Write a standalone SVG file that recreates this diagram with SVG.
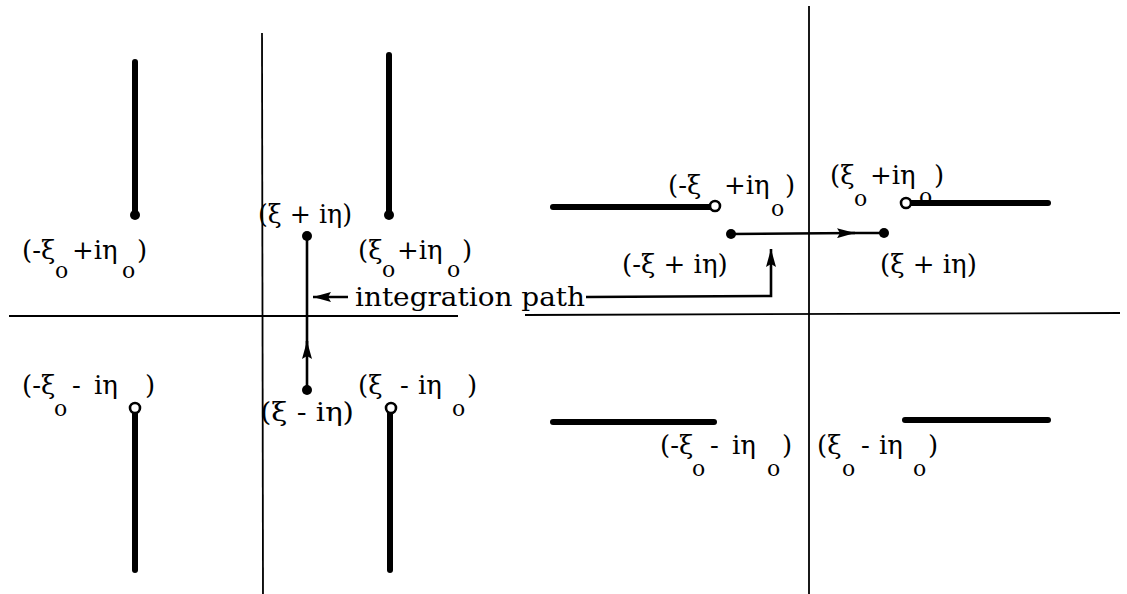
<svg xmlns="http://www.w3.org/2000/svg" width="1127" height="594" viewBox="0 0 1127 594">
<style>
.ax{stroke:#000;stroke-width:1.8;fill:none}
.cut{stroke:#000;stroke-width:6;stroke-linecap:round;fill:none}
.path{stroke:#000;stroke-width:2.6;fill:none}
.dot{fill:#000}
.oc{fill:#fff;stroke:#000;stroke-width:2.6}
text{font-family:"DejaVu Serif","Liberation Serif",serif;font-size:26px;fill:#000}
.sub{font-size:22px}
</style>
<defs>
<marker id="ah" viewBox="0 0 18 10" refX="18" refY="5" markerWidth="18" markerHeight="10" markerUnits="userSpaceOnUse" orient="auto">
<path d="M0,0 L18,5 L0,10 L3,5 Z" fill="#000"/>
</marker>
</defs>
<rect width="1127" height="594" fill="#fff"/>
<g id="axes">
<line class="ax" x1="9" y1="316" x2="458" y2="316"/>
<line class="ax" x1="525" y1="315" x2="1120" y2="313"/>
<line class="ax" x1="262" y1="33" x2="263" y2="594"/>
<line class="ax" x1="809" y1="6" x2="809" y2="594"/>
</g>
<g id="left-cuts">
<line class="cut" x1="135" y1="62" x2="135" y2="214"/>
<circle class="dot" cx="135" cy="215" r="5"/>
<line class="cut" x1="389" y1="55" x2="389" y2="214"/>
<circle class="dot" cx="389" cy="215" r="5"/>
<line class="cut" x1="135" y1="413" x2="135" y2="570"/>
<circle class="oc" cx="135" cy="408" r="5"/>
<line class="cut" x1="390" y1="413" x2="390" y2="570"/>
<circle class="oc" cx="391" cy="408" r="5"/>
</g>
<g id="right-cuts">
<line class="cut" x1="553" y1="207" x2="711" y2="207"/>
<circle class="oc" cx="715" cy="206" r="5"/>
<line class="cut" x1="910" y1="203" x2="1048" y2="203"/>
<circle class="oc" cx="906" cy="203" r="5"/>
<line class="cut" x1="553" y1="422" x2="714" y2="422"/>
<line class="cut" x1="905" y1="420" x2="1048" y2="420"/>
</g>
<g id="connectors">
<line class="path" x1="307" y1="390" x2="307" y2="341" marker-end="url(#ah)"/>
<line class="path" x1="307" y1="350" x2="307" y2="236"/>
<circle class="dot" cx="307" cy="390" r="5"/>
<circle class="dot" cx="307" cy="236" r="5"/>
<line class="path" x1="731" y1="234" x2="855" y2="233" marker-end="url(#ah)"/>
<line class="path" x1="845" y1="233" x2="884" y2="233"/>
<circle class="dot" cx="731" cy="234" r="5"/>
<circle class="dot" cx="884" cy="233" r="5"/>
<line class="path" x1="348" y1="297" x2="313" y2="297" marker-end="url(#ah)"/>
<polyline class="path" points="586,297 771,296 771,249" marker-end="url(#ah)"/>
</g>
<g id="labels">
<text y="259"><tspan x="22">(-ξ</tspan><tspan class="sub" x="55" y="278">o</tspan><tspan x="72" y="259">+iη</tspan><tspan class="sub" x="122" y="278">o</tspan><tspan x="137" y="259">)</tspan></text>
<text x="258" y="223" textLength="94" lengthAdjust="spacingAndGlyphs">(ξ + iη)</text>
<text y="259"><tspan x="358">(ξ</tspan><tspan class="sub" x="382" y="277">o</tspan><tspan x="397" y="259">+iη</tspan><tspan class="sub" x="447" y="277">o</tspan><tspan x="462" y="259">)</tspan></text>
<text y="394"><tspan x="22">(-ξ</tspan><tspan class="sub" x="54" y="416">o</tspan><tspan x="72" y="394">-</tspan><tspan x="94">iη</tspan><tspan x="145">)</tspan></text>
<text x="260" y="421" textLength="94" lengthAdjust="spacingAndGlyphs">(ξ - iη)</text>
<text y="394"><tspan x="358">(ξ</tspan><tspan x="400">-</tspan><tspan x="418">iη</tspan><tspan class="sub" x="452" y="416">o</tspan><tspan x="467" y="394">)</tspan></text>
<text x="355" y="306" textLength="230" lengthAdjust="spacingAndGlyphs">integration path</text>
<text y="194"><tspan x="668">(-ξ</tspan><tspan x="724">+iη</tspan><tspan class="sub" x="771" y="216">o</tspan><tspan x="785" y="194">)</tspan></text>
<text y="184"><tspan x="830">(ξ</tspan><tspan class="sub" x="854" y="206">o</tspan><tspan x="870" y="184">+iη</tspan><tspan class="sub" x="919" y="204">o</tspan><tspan x="934" y="184">)</tspan></text>
<text x="622" y="273">(-ξ + iη)</text>
<text x="880" y="273">(ξ + iη)</text>
<text y="454"><tspan x="660">(-ξ</tspan><tspan class="sub" x="692" y="476">o</tspan><tspan x="710" y="454">-</tspan><tspan x="732">iη</tspan><tspan class="sub" x="767" y="476">o</tspan><tspan x="782" y="454">)</tspan></text>
<text y="454"><tspan x="817">(ξ</tspan><tspan class="sub" x="842" y="476">o</tspan><tspan x="861" y="454">-</tspan><tspan x="879">iη</tspan><tspan class="sub" x="913" y="476">o</tspan><tspan x="928" y="454">)</tspan></text>
</g>
</svg>
